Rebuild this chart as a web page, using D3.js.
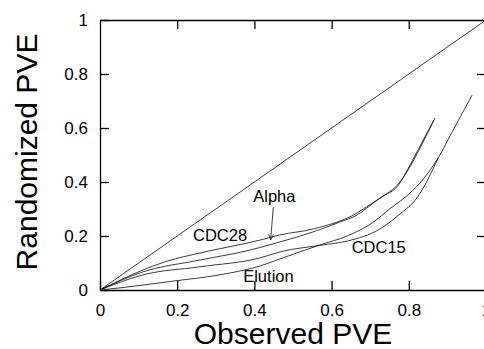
<!doctype html>
<html>
<head>
<script src="https://d3js.org/d3.v7.min.js"></script>
<style>
  body { margin: 0; background: #fff; }
  text { font-family: "Liberation Sans", Arial, Helvetica, sans-serif; fill: #000; }
  .curve { fill: none; stroke: #1a1a1a; stroke-width: 0.85; }
  .frame .domain { stroke: #000; stroke-width: 1.3; }
  .frame .tick line { stroke: #000; stroke-width: 1.3; }
</style>
</head>
<body>
<svg id="chart" width="484" height="349"></svg>
<script>
// values (x = observed PVE, y = randomized PVE)
const diagonal = [[0, 0], [1, 1]];
const cdc28 = [[0, 0], [0.111, 0.074], [0.174, 0.107], [0.259, 0.137], [0.415, 0.185], [0.466, 0.204],
  [0.552, 0.226], [0.666, 0.285], [0.699, 0.316], [0.725, 0.34], [0.777, 0.4], [0.795, 0.437],
  [0.837, 0.548], [0.868, 0.637]];
const alpha = [[0, 0], [0.111, 0.067], [0.259, 0.111], [0.389, 0.148], [0.466, 0.178], [0.552, 0.215],
  [0.622, 0.252], [0.666, 0.278], [0.699, 0.312], [0.725, 0.34], [0.777, 0.396], [0.795, 0.441],
  [0.824, 0.519], [0.865, 0.63]];
const cdc15 = [[0, 0], [0.111, 0.056], [0.259, 0.086], [0.415, 0.119], [0.466, 0.141], [0.578, 0.167],
  [0.640, 0.181], [0.725, 0.226], [0.777, 0.281], [0.821, 0.341], [0.876, 0.489]];
const elution = [[0, 0], [0.065, 0.01], [0.173, 0.03], [0.337, 0.063], [0.415, 0.089], [0.466, 0.115],
  [0.570, 0.167], [0.640, 0.2], [0.707, 0.25], [0.75, 0.3], [0.80, 0.355], [0.837, 0.41],
  [0.876, 0.489], [0.915, 0.593], [0.964, 0.722]];
const xTicks = [0, 0.2, 0.4, 0.6, 0.8, 1];
const yTicks = [0, 0.2, 0.4, 0.6, 0.8, 1];
const labels = [
  {text: 'CDC28', x: 0.241, y: 0.18},
  {text: 'Alpha', x: 0.397, y: 0.326},
  {text: 'CDC15', x: 0.652, y: 0.137},
  {text: 'Elution', x: 0.371, y: 0.031}
];
const alphaArrow = [[0.449, 0.307], [0.442, 0.185]];

const svg = d3.select('#chart');
const x = d3.scaleLinear().domain([0, 1]).range([100, 486]);
const y = d3.scaleLinear().domain([0, 1]).range([290, 20]);
const fmt = d => d === 0 || d === 1 ? String(d) : d.toFixed(1);

// bottom axis with labels, ticks pointing inward
const gx = svg.append('g').attr('class', 'frame')
  .attr('transform', 'translate(0,290)')
  .call(d3.axisBottom(x).tickValues(xTicks).tickFormat(fmt)
    .tickSizeInner(-9).tickSizeOuter(0).tickPadding(14));
gx.selectAll('text').attr('font-size', 17).attr('font-family', null);

const gy = svg.append('g').attr('class', 'frame')
  .attr('transform', 'translate(100,0)')
  .call(d3.axisLeft(y).tickValues(yTicks).tickFormat(fmt)
    .tickSizeInner(-9).tickSizeOuter(0).tickPadding(12));
gy.selectAll('text').attr('font-size', 17).attr('font-family', null);

svg.append('g').attr('class', 'frame')
  .attr('transform', 'translate(0,20)')
  .call(d3.axisTop(x).tickValues(xTicks.slice(1, -1)).tickFormat('')
    .tickSizeInner(-9).tickSizeOuter(0));

svg.append('g').attr('class', 'frame')
  .attr('transform', 'translate(486,0)')
  .call(d3.axisRight(y).tickValues(yTicks.slice(1, -1)).tickFormat('')
    .tickSizeInner(-9).tickSizeOuter(0));

svg.selectAll('.frame').attr('font-family', null);

// curves
const line = d3.line().x(d => x(d[0])).y(d => y(d[1])).curve(d3.curveMonotoneX);
[diagonal, cdc28, alpha, cdc15, elution].forEach(s => {
  svg.append('path').attr('class', 'curve').attr('d', line(s));
});

// labels
svg.selectAll('.lbl')
  .data(labels)
  .enter()
  .append('text')
  .attr('class', 'lbl')
  .attr('x', d => x(d.x))
  .attr('y', d => y(d.y))
  .attr('font-size', 16.5)
  .text(d => d.text);

// arrow from "Alpha" to its curve
svg.append('defs').append('marker')
  .attr('id', 'head')
  .attr('viewBox', '0 0 10 10')
  .attr('refX', 10).attr('refY', 5)
  .attr('markerWidth', 6).attr('markerHeight', 6)
  .attr('markerUnits', 'userSpaceOnUse')
  .attr('orient', 'auto')
  .append('path')
  .attr('d', 'M0,1 L10,5 L0,9')
  .attr('fill', 'none')
  .attr('stroke', '#1a1a1a')
  .attr('stroke-width', 1.2);

svg.append('path')
  .attr('d', d3.line().x(d => x(d[0])).y(d => y(d[1]))(alphaArrow))
  .attr('fill', 'none')
  .attr('stroke', '#1a1a1a')
  .attr('stroke-width', 0.85)
  .attr('marker-end', 'url(#head)');

// axis titles
svg.append('text')
  .attr('x', 293)
  .attr('y', 344)
  .attr('text-anchor', 'middle')
  .attr('font-size', 30)
  .text('Observed PVE');

svg.append('text')
  .attr('transform', 'translate(37,152) rotate(-90)')
  .attr('text-anchor', 'middle')
  .attr('font-size', 30)
  .text('Randomized PVE');
</script>
</body>
</html>
